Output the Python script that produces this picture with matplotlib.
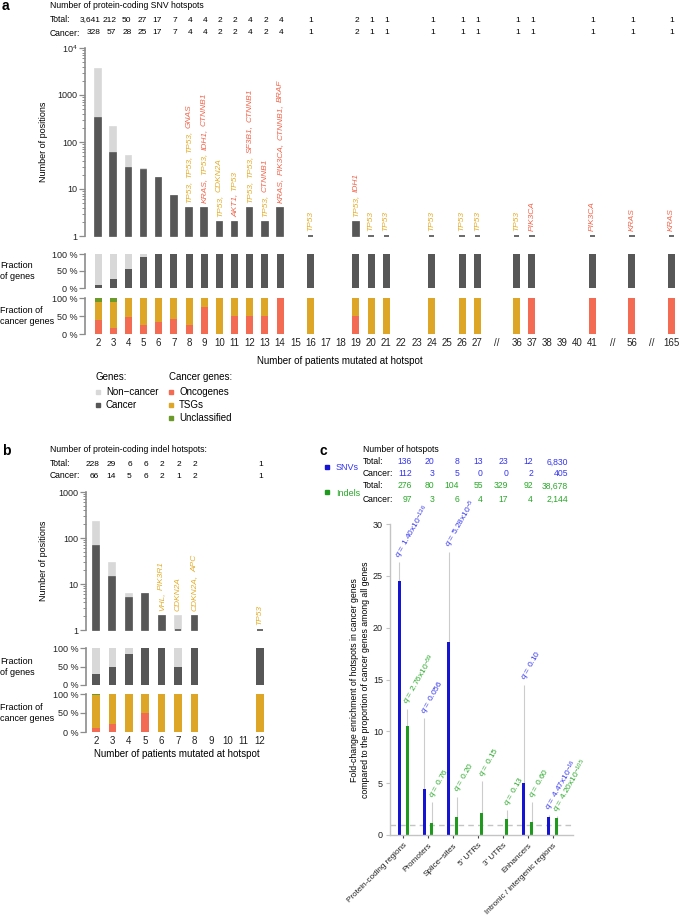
import numpy as np
import matplotlib
matplotlib.use("Agg")
import matplotlib.pyplot as plt
from matplotlib import transforms
from matplotlib.ticker import LogLocator, NullFormatter

plt.rcParams['font.family'] = ['Liberation Sans', 'DejaVu Sans']
plt.rcParams['mathtext.fontset'] = 'custom'
plt.rcParams['mathtext.rm'] = 'Liberation Sans'
plt.rcParams['mathtext.it'] = 'Liberation Sans:italic'

W, H = 680, 916
nan = np.nan

# ---- panel a: protein-coding SNV hotspots
a_labels = [str(i) for i in range(2, 28)] + ['//', '36', '37', '38', '39', '40', '41', '//', '56', '//', '165']
a_total = [3641, 212, 50, 27, 17, 7, 4, 4, 2, 2, 4, 2, 4, 0, 1, 0, 0, 2, 1, 1, 0, 0, 1, 0, 1, 1,
           0, 1, 1, 0, 0, 0, 1, 0, 1, 0, 1]
a_cancer = [328, 57, 28, 25, 17, 7, 4, 4, 2, 2, 4, 2, 4, 0, 1, 0, 0, 2, 1, 1, 0, 0, 1, 0, 1, 1,
            0, 1, 1, 0, 0, 0, 1, 0, 1, 0, 1]
a_onco = [0.39, 0.16, 0.47, 0.25, 0.34, 0.42, 0.25, 0.75, 0, 0.5, 0.5, 0.5, 1, nan, 0, nan, nan, 0.5,
          0, 0, nan, nan, 0, nan, 0, 0, nan, 0, 1, nan, nan, nan, 1, nan, 1, nan, 1]
a_uncl = [0.12, 0.11] + [0] * 35
a_genes = {
    '8': ['TP53', 'TP53', 'TP53', 'GNAS'],
    '9': ['KRAS', 'TP53', 'IDH1', 'CTNNB1'],
    '10': ['TP53', 'CDKN2A'],
    '11': ['AKT1', 'TP53'],
    '12': ['TP53', 'TP53', 'SF3B1', 'CTNNB1'],
    '13': ['TP53', 'CTNNB1'],
    '14': ['KRAS', 'PIK3CA', 'CTNNB1', 'BRAF'],
    '16': ['TP53'], '19': ['TP53', 'IDH1'], '20': ['TP53'], '21': ['TP53'],
    '24': ['TP53'], '26': ['TP53'], '27': ['TP53'], '36': ['TP53'], '37': ['PIK3CA'],
    '41': ['PIK3CA'], '56': ['KRAS'], '165': ['KRAS'],
}

# ---- panel b: protein-coding indel hotspots
b_labels = [str(i) for i in range(2, 13)]
b_total = [228, 29, 6, 6, 2, 2, 2, 0, 0, 0, 1]
b_cancer = [66, 14, 5, 6, 2, 1, 2, 0, 0, 0, 1]
b_onco = [0.105, 0.21, 0, 0.5, 0, 0, 0, nan, nan, nan, 0]
b_uncl = [0.015] + [0] * 10
b_genes = {'6': ['VHL', 'PIK3R1'], '7': ['CDKN2A'], '8': ['CDKN2A', 'APC'], '12': ['TP53']}

oncogenes = {'GNAS', 'KRAS', 'IDH1', 'CTNNB1', 'AKT1', 'SF3B1', 'PIK3CA', 'BRAF'}

# ---- panel c: enrichment by region
c_regions = ['Protein-coding regions', 'Promoters', 'Splice\u2212sites', "5' UTRs", "3' UTRs",
             'Enhancers', 'Intronic / intergenic regions']
c_snv_fc = [24.5, 4.4, 18.6, 0, 0, 5.0, 1.75]
c_snv_ci = [26.3, 11.3, 27.3, nan, nan, 14.5, 1.95]
c_indel_fc = [10.5, 1.15, 1.75, 2.15, 1.55, 1.3, 1.65]
c_indel_ci = [12.2, 3.2, 3.7, 5.2, 2.4, 3.2, 1.8]
c_snv_q = [r'$q$ = 1.40x10$^{-136}$', r'$q$ = 0.056', r'$q$ = 5.28x10$^{-5}$', None, None,
           r'$q$ = 0.10', r'$q$ = 4.47x10$^{-16}$']
c_indel_q = [r'$q$ = 2.76x10$^{-59}$', r'$q$ = 0.76', r'$q$ = 0.20', r'$q$ = 0.15', r'$q$ = 0.13',
             r'$q$ = 0.60', r'$q$ = 4.20x10$^{-105}$']
c_snv_total = [136, 20, 8, 13, 23, 12, 6830]
c_snv_cancer = [112, 3, 5, 0, 0, 2, 405]
c_indel_total = [276, 80, 104, 55, 329, 92, 38678]
c_indel_cancer = [97, 3, 6, 4, 17, 4, 2144]

LIGHT = '#d8d8d8'
DARK = '#575757'
ONCO = '#f26b52'
TSG = '#dea626'
UNCL = '#6b9a2a'
ONCO_TXT = '#f0654c'
TSG_TXT = '#e3ad2c'
SPINE = '#8c8c8c'
BLUE = '#1414d2'
GREEN = '#1f9a1f'
BLUE_TXT = '#3535ee'
GREEN_TXT = '#2aa82a'

fig = plt.figure(figsize=(W / 100, H / 100), dpi=100)
ov = fig.add_axes([0, 0, 1, 1])
ov.set_xlim(0, W)
ov.set_ylim(H, 0)
ov.axis('off')


def px_axes(x0, y0, x1, y1):
    return fig.add_axes([x0 / W, 1 - y1 / H, (x1 - x0) / W, (y1 - y0) / H])


def slot_positions(labels):
    xs, x = [], 0.0
    for i, lab in enumerate(labels):
        if i > 0:
            x += 1.3 if (lab == '//' or labels[i - 1] == '//') else 1
        xs.append(x)
    return np.array(xs)


def style_left(ax, fontsize=6.5):
    for s in ('top', 'right', 'bottom'):
        ax.spines[s].set_visible(False)
    ax.spines['left'].set_color(SPINE)
    ax.spines['left'].set_linewidth(1.2)
    ax.tick_params(axis='y', which='major', colors=SPINE, labelcolor='#222222',
                   labelsize=fontsize, length=4, width=0.9, pad=1.5)
    ax.tick_params(axis='y', which='minor', colors=SPINE, length=2.5, width=0.7)
    ax.tick_params(axis='x', length=0)
    ax.patch.set_visible(False)


def gene_label(ax, x, ytop, genes, size=6):
    r = fig.canvas.get_renderer()
    off = 5
    gap = size * 1.389 * 0.3
    for i, g in enumerate(genes):
        s = g + (',' if i < len(genes) - 1 else '')
        tr = transforms.offset_copy(ax.transData, fig=fig, x=0, y=off, units='dots')
        t = ax.text(x, ytop, s, rotation=90, ha='center', va='bottom', fontsize=size,
                    style='italic', color=ONCO_TXT if g in oncogenes else TSG_TXT,
                    transform=tr, clip_on=False)
        off += t.get_window_extent(renderer=r).height + gap


def hotspot_panel(ax_log, ax_fg, ax_fc, labels, total, cancer, onco, uncl, genes, ymax):
    xs = slot_positions(labels)
    total = np.array(total, float)
    cancer = np.array(cancer, float)
    onco = np.array(onco, float)
    uncl = np.array(uncl, float)
    has = total > 0
    w = 0.36
    ax_log.set_yscale('log')
    ax_log.bar(xs[has], total[has] - 1, bottom=1, width=w, color=LIGHT,
               edgecolor=LIGHT, linewidth=1.2, clip_on=False)
    ax_log.bar(xs[has], cancer[has] - 1, bottom=1, width=w, color=DARK,
               edgecolor=DARK, linewidth=1.2, clip_on=False)
    ax_log.set_ylim(1, ymax)
    ax_log.yaxis.set_minor_locator(LogLocator(base=10, subs=np.arange(2, 10)))
    ax_log.yaxis.set_minor_formatter(NullFormatter())
    for lab, g in genes.items():
        i = labels.index(lab)
        gene_label(ax_log, xs[i], total[i], g)

    fw = 0.46
    frac = np.where(has, cancer / np.where(has, total, 1), 0) * 100
    ax_fg.bar(xs[has], 100, width=fw, color=LIGHT, linewidth=0)
    ax_fg.bar(xs[has], frac[has], width=fw, color=DARK, linewidth=0)
    ax_fg.set_ylim(0, 100)

    c = cancer > 0
    tsg = 1 - onco - uncl
    ax_fc.bar(xs[c], onco[c] * 100, width=fw, color=ONCO, linewidth=0)
    ax_fc.bar(xs[c], tsg[c] * 100, bottom=onco[c] * 100, width=fw, color=TSG, linewidth=0)
    ax_fc.bar(xs[c], uncl[c] * 100, bottom=(onco[c] + tsg[c]) * 100, width=fw, color=UNCL, linewidth=0)
    ax_fc.set_ylim(0, 100)

    for ax in (ax_fg, ax_fc):
        ax.set_yticks([0, 50, 100], ['0 %', '50 %', '100 %'])
    for ax in (ax_log, ax_fg, ax_fc):
        style_left(ax)
        ax.set_xticks([])
    ax_fc.set_xticks(xs, labels)
    ax_fc.tick_params(axis='x', labelsize=7, pad=3, labelcolor='#222222')
    return xs


def count_rows(ax, xs, total, cancer, y_total, y_cancer):
    blend = transforms.blended_transform_factory(ax.transData, ov.transData)
    tr = transforms.offset_copy(blend, fig=fig, x=3, units='dots')
    for x, t, c in zip(xs, total, cancer):
        if t > 0:
            ax.text(x, y_total, f'{t:,}', transform=tr, ha='right', va='center', fontsize=6, clip_on=False)
            ax.text(x, y_cancer, f'{c:,}', transform=tr, ha='right', va='center', fontsize=6, clip_on=False)


# ---------------- panel a
ax_a = px_axes(85, 48, 679, 236)
ax_a_fg = px_axes(85, 254, 679, 288)
ax_a_fc = px_axes(85, 298, 679, 334)
xs_a = hotspot_panel(ax_a, ax_a_fg, ax_a_fc, a_labels, a_total, a_cancer, a_onco, a_uncl, a_genes, 1e4)
for ax in (ax_a, ax_a_fg, ax_a_fc):
    ax.set_xlim(-0.86, 38.3)
ax_a.set_yticks([1, 10, 100, 1000, 1e4], ['1', '10', '100', '1000', '10$^4$'])
count_rows(ax_a, xs_a, a_total, a_cancer, 20, 33)

ov.text(2, 6, 'a', fontsize=10, fontweight='bold', va='center')
ov.text(50, 6, 'Number of protein-coding SNV hotspots', fontsize=6.2, va='center')
ov.text(50, 20, 'Total:', fontsize=6.2, va='center')
ov.text(50, 33, 'Cancer:', fontsize=6.2, va='center')
ov.text(43, 142, 'Number of positions', rotation=90, fontsize=6.5, ha='center', va='center')
ov.text(0, 271, 'Fraction\nof genes', fontsize=6.5, va='center', linespacing=1.25)
ov.text(0, 316, 'Fraction of\ncancer genes', fontsize=6.5, va='center', linespacing=1.25)
ov.text(340, 361, 'Number of patients mutated at hotspot', fontsize=7, ha='center', va='center')

# legend
ov.text(96, 377, 'Genes:', fontsize=7, va='center')
ov.text(169, 377, 'Cancer genes:', fontsize=7, va='center')
for (x, y, col, lab) in [(98, 392, LIGHT, 'Non\u2212cancer'), (98, 405, DARK, 'Cancer'),
                         (171, 392, ONCO, 'Oncogenes'), (171, 405, TSG, 'TSGs'),
                         (171, 418, UNCL, 'Unclassified')]:
    ov.plot([x], [y], marker='s', ms=3.2, color=col, linestyle='none')
    ov.text(x + 8, y, lab, fontsize=7, va='center')

# ---------------- panel b
ax_b = px_axes(86, 492, 270, 630)
ax_b_fg = px_axes(86, 648, 270, 685)
ax_b_fc = px_axes(86, 694, 270, 732)
xs_b = hotspot_panel(ax_b, ax_b_fg, ax_b_fc, b_labels, b_total, b_cancer, b_onco, b_uncl, b_genes, 1000)
for ax in (ax_b, ax_b_fg, ax_b_fc):
    ax.set_xlim(-0.61, 10.6)
ax_b.set_yticks([1, 10, 100, 1000], ['1', '10', '100', '1000'])
count_rows(ax_b, xs_b, b_total, b_cancer, 464, 476)

ov.text(2, 451, 'b', fontsize=10, fontweight='bold', va='center')
ov.text(50, 449, 'Number of protein-coding indel hotspots:', fontsize=6.2, va='center')
ov.text(50, 464, 'Total:', fontsize=6.2, va='center')
ov.text(50, 476, 'Cancer:', fontsize=6.2, va='center')
ov.text(43, 561, 'Number of positions', rotation=90, fontsize=6.5, ha='center', va='center')
ov.text(0, 667, 'Fraction\nof genes', fontsize=6.5, va='center', linespacing=1.25)
ov.text(0, 713, 'Fraction of\ncancer genes', fontsize=6.5, va='center', linespacing=1.25)
ov.text(177, 754, 'Number of patients mutated at hotspot', fontsize=7, ha='center', va='center')

# ---------------- panel c
ax_c = px_axes(390, 524, 573, 835)
xc = np.arange(1, len(c_regions) + 1)
dx = 0.16
snv_fc = np.array(c_snv_fc)
indel_fc = np.array(c_indel_fc)
for xpos, ci in ((xc - dx, c_snv_ci), (xc + dx, c_indel_ci)):
    ci = np.array(ci)
    ok = ~np.isnan(ci)
    ax_c.vlines(xpos[ok], 0, ci[ok], color='#cccccc', lw=0.8, zorder=1)
ax_c.bar(xc - dx, snv_fc, width=0.12, color=BLUE, zorder=2)
ax_c.bar(xc + dx, indel_fc, width=0.12, color=GREEN, zorder=2)
ax_c.axhline(1, color='#c4c4c4', lw=1, ls=(0, (4, 3)), zorder=0)
for xpos, ci, fc, qs, col in ((xc - dx, c_snv_ci, c_snv_fc, c_snv_q, BLUE_TXT),
                              (xc + dx, c_indel_ci, c_indel_fc, c_indel_q, GREEN_TXT)):
    for x, top, v, q in zip(xpos, ci, fc, qs):
        if q is None:
            continue
        y = max(top, v)
        tr = transforms.offset_copy(ax_c.transData, fig=fig, x=-1, y=5, units='dots')
        ax_c.text(x, y, q, transform=tr, rotation=60, rotation_mode='anchor', ha='left',
                  va='center', fontsize=6, color=col, clip_on=False)
ax_c.set_xlim(0.48, 7.8)
ax_c.set_ylim(0, 30)
ax_c.set_yticks([0, 5, 10, 15, 20, 25, 30])
for s in ('top', 'right'):
    ax_c.spines[s].set_visible(False)
for s in ('left', 'bottom'):
    ax_c.spines[s].set_color('#c4c4c4')
    ax_c.spines[s].set_linewidth(1)
ax_c.tick_params(axis='y', colors='#c4c4c4', labelcolor='#222222', labelsize=6.5, length=3, pad=2)
ax_c.set_xticks(xc, c_regions, rotation=45, ha='right', rotation_mode='anchor')
ax_c.tick_params(axis='x', colors='#444444', labelcolor='#222222', labelsize=5.9, length=2.5, pad=2.5)
ax_c.patch.set_visible(False)

ov.text(320, 451, 'c', fontsize=10, fontweight='bold', va='center')
ov.plot([327], [467], marker='s', ms=3.2, color=BLUE, linestyle='none')
ov.text(336, 468, 'SNVs', fontsize=6.5, va='center', color=BLUE_TXT)
ov.plot([327], [492], marker='s', ms=3.2, color=GREEN, linestyle='none')
ov.text(336, 493, 'Indels', fontsize=6.5, va='center', color=GREEN_TXT)
ov.text(363, 449, 'Number of hotspots', fontsize=6.2, va='center')
col_right = [412, 434, 459, 483, 508, 533, 568]
rows = [('Total:', c_snv_total, BLUE_TXT, 462), ('Cancer:', c_snv_cancer, BLUE_TXT, 474),
        ('Total:', c_indel_total, GREEN_TXT, 486), ('Cancer:', c_indel_cancer, GREEN_TXT, 499)]
for name, vals, col, y in rows:
    ov.text(363, y, name, fontsize=6.2, va='center')
    for xr, v in zip(col_right, vals):
        ov.text(xr, y, f'{v:,}', fontsize=6.2, va='center', ha='right', color=col)
ov.text(360, 680, 'Fold-change enrichment of hotspots in cancer genes\n'
        'compared to the proportion of cancer genes among all genes',
        rotation=90, fontsize=6.3, ha='center', va='center', multialignment='center')

fig.savefig('out.png', dpi=100)
